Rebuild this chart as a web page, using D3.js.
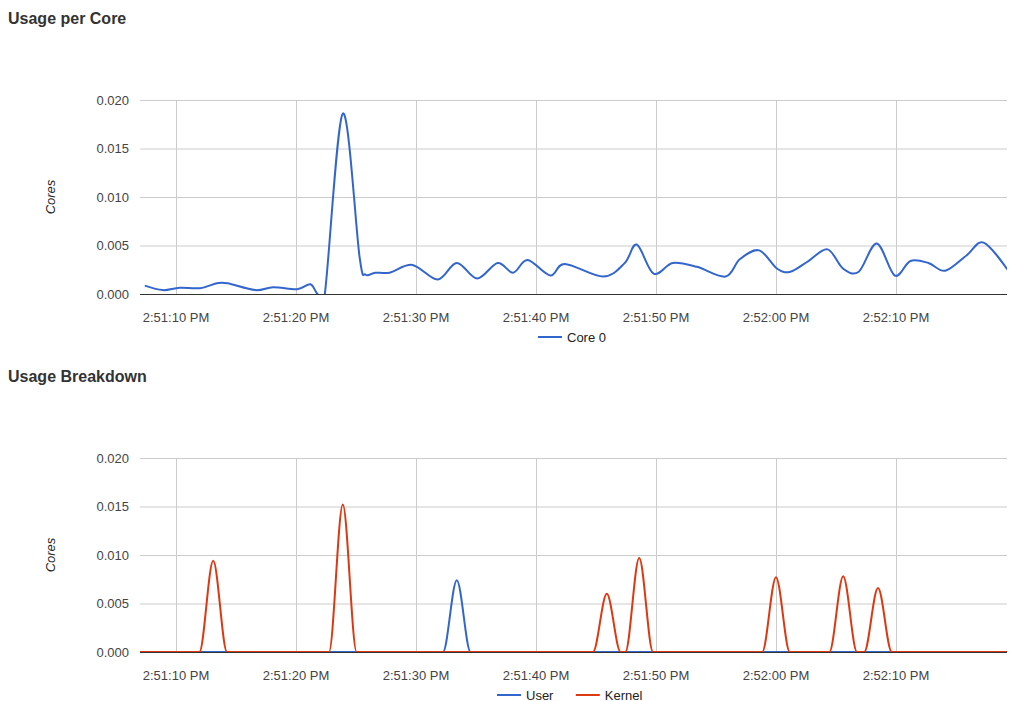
<!DOCTYPE html>
<html><head><meta charset="utf-8">
<script src="https://cdn.jsdelivr.net/npm/d3@7"></script>
<style>body{margin:0;background:#fff;font-family:"Liberation Sans",Arial,sans-serif}</style>
</head><body><svg id="c" width="1024" height="701"></svg>
<script>
// times: seconds after 2:51:00 PM
const coreTimes = [7.4,8.9,10.3,12.0,13.4,14.3,16.6,18.1,20.1,21.2,21.8,22.4,23.9,25.3,25.8,26.6,27.8,29.7,31.8,33.4,35.1,36.8,38.1,39.3,41.2,42.4,45.6,47.4,48.4,49.8,51.4,53.4,55.8,57.0,58.6,60.1,61.2,62.7,64.3,65.6,66.9,68.4,69.9,71.2,72.7,74.1,75.9,77.3,79.3];
const coreVals  = [0.00086,0.0004,0.00065,0.0006,0.0011,0.0011,0.0004,0.0007,0.0005,0.001,0,0,0.0186,0.0038,0.002,0.0022,0.0022,0.003,0.0015,0.0032,0.0016,0.0032,0.0022,0.0035,0.0019,0.0031,0.0018,0.0032,0.0051,0.0021,0.0032,0.0028,0.0018,0.0036,0.0045,0.0026,0.0023,0.0034,0.0046,0.0026,0.0023,0.0052,0.0019,0.0034,0.0032,0.0024,0.004,0.0053,0.0025];
const kernelPeakTimes = [13.1,23.9,45.9,48.6,60.0,65.6,68.5];
const kernelPeakVals  = [0.0094,0.0152,0.0060,0.0097,0.0077,0.0078,0.0066];
const userPeakTimes = [33.4];
const userPeakVals  = [0.0074];
const tickTimes = [10,20,30,40,50,60,70];
const tickLabels = ["2:51:10 PM","2:51:20 PM","2:51:30 PM","2:51:40 PM","2:51:50 PM","2:52:00 PM","2:52:10 PM"];
const yTicks = [0,0.005,0.01,0.015,0.02];
const tMin = 7.0, tMax = 79.25;

const svg = d3.select("#c");
const x = d3.scaleLinear().domain([tMin,tMax]).range([140,1007]);

function peakSeries(times, vals){
  const pts=[[tMin,0]];
  times.forEach((t,i)=>{pts.push([t-1.15,0]);pts.push([t,vals[i]]);pts.push([t+1.15,0]);});
  pts.push([tMax,0]);
  return pts;
}

function chart(top, title, series, legend, curve){
  const y = d3.scaleLinear().domain([0,0.02]).range([top+194,top]);
  const id="clip"+top;
  svg.append("clipPath").attr("id",id).append("rect").attr("x",140).attr("y",top-5).attr("width",867).attr("height",199);
  svg.append("text").attr("x",8).attr("y",top-76).attr("font-size",16).attr("font-weight","bold").attr("fill","#333").text(title);
  const g=svg.append("g");
  g.selectAll(".hy").data(yTicks).join("line").attr("x1",140).attr("x2",1007).attr("y1",d=>y(d)+0.5).attr("y2",d=>y(d)+0.5).attr("stroke","#ccc");
  g.selectAll(".vx").data(tickTimes).join("line").attr("x1",d=>x(d)+0.5).attr("x2",d=>x(d)+0.5).attr("y1",top).attr("y2",top+194).attr("stroke","#ccc");
  g.selectAll(".yl").data(yTicks).join("text").attr("x",129).attr("y",d=>y(d)+4.5).attr("text-anchor","end").attr("font-size",13).attr("fill","#444").text(d=>d3.format(".3f")(d));
  g.selectAll(".xl").data(tickTimes).join("text").attr("x",d=>x(d)).attr("y",top+222).attr("text-anchor","middle").attr("font-size",13).attr("fill","#444").text((d,i)=>tickLabels[i]);
  g.append("text").attr("transform",`translate(55,${top+97}) rotate(-90)`).attr("text-anchor","middle").attr("font-size",13).attr("font-style","italic").attr("fill","#222").text("Cores");
  const line=d3.line().x(d=>x(d[0])).y(d=>y(d[1])).curve(curve);
  series.forEach(s=>{
    g.append("path").attr("d",line(s.pts)).attr("fill","none").attr("stroke",s.color).attr("stroke-width",2).attr("clip-path",`url(#${id})`);
  });
  g.append("line").attr("x1",140).attr("x2",1007).attr("y1",top+194.5).attr("y2",top+194.5).attr("stroke","#333");
  const items=legend;
  let widths=items.map(s=>30+s.name.length*7.2);
  let total=d3.sum(widths)+ (items.length-1)*20;
  let lx=573-total/2;
  if(items.length===1) lx=538;
  items.forEach((s,i)=>{
    g.append("line").attr("x1",lx).attr("x2",lx+24).attr("y1",top+237).attr("y2",top+237).attr("stroke",s.color).attr("stroke-width",2);
    g.append("text").attr("x",lx+29).attr("y",top+241.5).attr("font-size",13).attr("fill","#222").text(s.name);
    lx+=widths[i]+20;
  });
}

const coreSeries=[{name:"Core 0",color:"#3366cc",pts:coreTimes.map((t,i)=>[t,coreVals[i]])}];
chart(100,"Usage per Core",coreSeries,coreSeries,d3.curveCatmullRom.alpha(0));
const bSeries=[
 {name:"User",color:"#3366cc",pts:peakSeries(userPeakTimes,userPeakVals)},
 {name:"Kernel",color:"#dc3912",pts:peakSeries(kernelPeakTimes,kernelPeakVals)}
];
chart(458,"Usage Breakdown",bSeries,bSeries,d3.curveMonotoneX);
</script></body></html>
